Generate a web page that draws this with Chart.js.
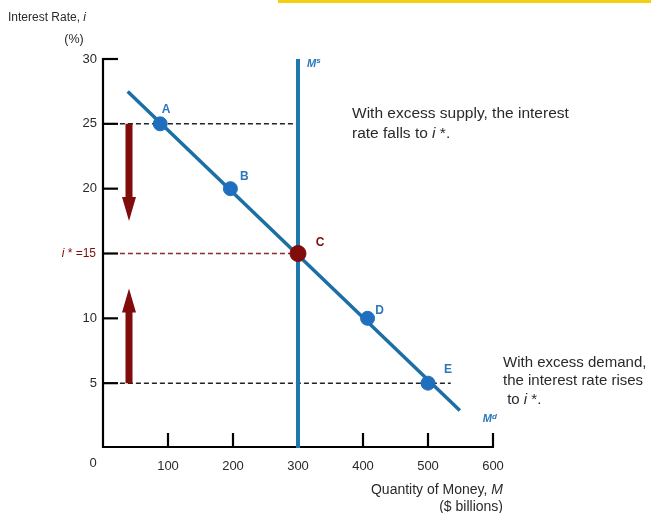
<!DOCTYPE html>
<html><head><meta charset="utf-8">
<script src="https://cdn.jsdelivr.net/npm/chart.js@4.4.1/dist/chart.umd.min.js"></script>
<style>html,body{margin:0;padding:0;background:#fff}canvas{display:block}</style>
</head><body>
<canvas id="c" width="651" height="513"></canvas>
<script>
// ---- data ----
const xTicks = [0, 100, 200, 300, 400, 500, 600];
const yTicks = [5, 10, 15, 20, 25, 30];
const pointLabels = ['A', 'B', 'C', 'D', 'E'];
const pointQty = [88, 196, 300, 407, 500];
const pointRate = [25, 20, 15, 10, 5];
const demandQty = [38, 549];
const demandRate = [27.5, 2.9];
const supplyQty = [300, 300];
const supplyRate = [0, 30];
const eqRate = 15;
const dashStart = 26;
const dash25End = 300;
const dash15End = 300;
const dash5End = 535;
const arrowQty = 40;
const arrowDown = [25, 17.5];
const arrowUp = [5, 12.3];

const BLUE_LINE = '#1c6fa4';
const BLUE_PT = '#1f6fbe';
const DARK_RED = '#800c0c';
const TXT = '#2a2a2a';
const FF = '"Liberation Sans", Arial, Helvetica, sans-serif';

const pts = (xs, ys) => xs.map((x, i) => ({x, y: ys[i]}));
const blueIdx = [0, 1, 3, 4];

function runs(ctx, list, x, y, align) {
  let w = 0;
  list.forEach(r => { ctx.font = r.f; w += ctx.measureText(r.t).width; });
  let cx = align === 'right' ? x - w : align === 'center' ? x - w / 2 : x;
  ctx.textAlign = 'left';
  list.forEach(r => {
    ctx.font = r.f; ctx.fillStyle = r.c || TXT;
    ctx.fillText(r.t, cx, y + (r.dy || 0));
    cx += ctx.measureText(r.t).width;
  });
}

const deco = {
  id: 'deco',
  beforeDraw(chart) {
    const ctx = chart.ctx;
    ctx.save();
    ctx.fillStyle = '#fff'; ctx.fillRect(0, 0, chart.width, chart.height);
    ctx.fillStyle = '#f5cf12'; ctx.fillRect(278, 0, 373, 3);
    ctx.restore();
  },
  beforeDatasetsDraw(chart) {
    const ctx = chart.ctx, xs = chart.scales.x, ys = chart.scales.y;
    const x0 = xs.getPixelForValue(0), y0 = ys.getPixelForValue(0) - 1;
    ctx.save();
    ctx.strokeStyle = '#000'; ctx.lineWidth = 2.2;
    ctx.beginPath();
    ctx.moveTo(x0, ys.getPixelForValue(30) - 1); ctx.lineTo(x0, y0);
    ctx.lineTo(xs.getPixelForValue(600) + 1, y0);
    ctx.stroke();
    yTicks.forEach(v => {
      const py = ys.getPixelForValue(v);
      ctx.beginPath(); ctx.moveTo(x0, py); ctx.lineTo(x0 + 15, py); ctx.stroke();
    });
    xTicks.slice(1).forEach(v => {
      const px = xs.getPixelForValue(v);
      ctx.beginPath(); ctx.moveTo(px, y0); ctx.lineTo(px, y0 - 14); ctx.stroke();
    });
    // tick labels
    ctx.textBaseline = 'middle';
    const f = '13px ' + FF;
    yTicks.forEach(v => {
      const py = ys.getPixelForValue(v);
      if (v === eqRate) {
        runs(ctx, [{t: 'i', f: 'italic 12px ' + FF, c: DARK_RED}, {t: ' * =' + v, f: '12px ' + FF, c: DARK_RED}], x0 - 7, py, 'right');
      } else {
        runs(ctx, [{t: String(v), f}], x0 - 6, py, 'right');
      }
    });
    xTicks.forEach(v => {
      if (v === 0) { runs(ctx, [{t: '0', f}], x0 - 10, y0 + 16, 'center'); return; }
      runs(ctx, [{t: String(v), f}], xs.getPixelForValue(v), y0 + 19, 'center');
    });
    ctx.restore();
  },
  afterDatasetsDraw(chart) {
    const ctx = chart.ctx, xs = chart.scales.x, ys = chart.scales.y;
    ctx.save();
    // arrows
    const ax = xs.getPixelForValue(arrowQty);
    [arrowDown, arrowUp].forEach(a => {
      const p1 = ys.getPixelForValue(a[0]), p2 = ys.getPixelForValue(a[1]);
      const dir = p2 > p1 ? 1 : -1;
      const hb = p2 - dir * 24;
      ctx.fillStyle = DARK_RED;
      ctx.beginPath();
      ctx.moveTo(ax - 3.5, p1); ctx.lineTo(ax + 3.5, p1);
      ctx.lineTo(ax + 3.5, hb); ctx.lineTo(ax + 7, hb);
      ctx.lineTo(ax, p2); ctx.lineTo(ax - 7, hb); ctx.lineTo(ax - 3.5, hb);
      ctx.closePath(); ctx.fill();
    });
    // point labels
    const offs = [[6, -14], [14, -12], [22, -11], [12, -8], [20, -13]];
    ctx.textBaseline = 'middle';
    pointLabels.forEach((l, i) => {
      const px = xs.getPixelForValue(pointQty[i]) + offs[i][0];
      const py = ys.getPixelForValue(pointRate[i]) + offs[i][1];
      runs(ctx, [{t: l, f: 'bold 12px ' + FF, c: i === 2 ? DARK_RED : '#2a78bb'}], px, py, 'center');
    });
    // curve labels
    const sx = xs.getPixelForValue(supplyQty[0]) + 9, sy = ys.getPixelForValue(supplyRate[1]) + 5;
    runs(ctx, [{t: 'M', f: 'italic bold 11px ' + FF, c: '#2a78bb'}, {t: 's', f: 'italic bold 8px ' + FF, c: '#2a78bb', dy: -3}], sx, sy, 'left');
    const dx = xs.getPixelForValue(demandQty[1]) + 23, dy = ys.getPixelForValue(demandRate[1]) + 9;
    runs(ctx, [{t: 'M', f: 'italic bold 11px ' + FF, c: '#2a78bb'}, {t: 'd', f: 'italic bold 8px ' + FF, c: '#2a78bb', dy: -3}], dx, dy, 'left');
    // axis titles
    const ft = '12px ' + FF, fti = 'italic 12px ' + FF;
    runs(ctx, [{t: 'Interest Rate, ', f: ft}, {t: 'i', f: fti}], 8, 18, 'left');
    runs(ctx, [{t: '(%)', f: '12.5px ' + FF}], 74, 40, 'center');
    const f = '14px ' + FF, fi = 'italic 14px ' + FF;
    runs(ctx, [{t: 'Quantity of Money, ', f}, {t: 'M', f: fi}], 503, 490, 'right');
    runs(ctx, [{t: '($ billions)', f}], 503, 507, 'right');
    // annotations
    const g = '15.5px ' + FF, gi = 'italic 15.5px ' + FF;
    runs(ctx, [{t: 'With excess supply, the interest', f: g}], 352, 114, 'left');
    runs(ctx, [{t: 'rate falls to ', f: g}, {t: 'i', f: gi}, {t: ' *.', f: g}], 352, 134, 'left');
    const h = '15px ' + FF, hi = 'italic 15px ' + FF;
    runs(ctx, [{t: 'With excess demand,', f: h}], 503, 363, 'left');
    runs(ctx, [{t: 'the interest rate rises', f: h}], 503, 381, 'left');
    runs(ctx, [{t: ' to ', f: h}, {t: 'i', f: hi}, {t: ' *.', f: h}], 503, 400, 'left');
    ctx.restore();
  }
};

new Chart(document.getElementById('c'), {
  type: 'scatter',
  data: {
    datasets: [
      {label: 'Eq', data: [{x: pointQty[2], y: pointRate[2]}], backgroundColor: DARK_RED, borderColor: DARK_RED, pointRadius: 8, order: 0},
      {label: 'Points', data: blueIdx.map(i => ({x: pointQty[i], y: pointRate[i]})), backgroundColor: BLUE_PT, borderColor: BLUE_PT, pointRadius: 7, order: 1},
      {label: 'Supply', type: 'line', data: pts(supplyQty, supplyRate), borderColor: '#1f78ad', borderWidth: 4, pointRadius: 0, order: 2},
      {label: 'Demand', type: 'line', data: pts(demandQty, demandRate), borderColor: BLUE_LINE, borderWidth: 3.5, pointRadius: 0, order: 3},
      {label: 'd25', type: 'line', data: [{x: dashStart, y: 25}, {x: dash25End, y: 25}], borderColor: '#222', borderWidth: 1.5, borderDash: [5, 3], pointRadius: 0, order: 4},
      {label: 'd15', type: 'line', data: [{x: dashStart, y: eqRate}, {x: dash15End, y: eqRate}], borderColor: '#8a2a2a', borderWidth: 1.3, borderDash: [5, 3], pointRadius: 0, order: 4},
      {label: 'd5', type: 'line', data: [{x: dashStart, y: 5}, {x: dash5End, y: 5}], borderColor: '#222', borderWidth: 1.5, borderDash: [5, 3], pointRadius: 0, order: 4}
    ].map(d => Object.assign({clip: false, showLine: d.type === 'line', pointHoverRadius: 0}, d))
  },
  options: {
    responsive: false, animation: false, events: [],
    layout: {padding: {left: 103, right: 158, top: 59, bottom: 65}},
    plugins: {legend: {display: false}, tooltip: {enabled: false}},
    scales: {
      x: {type: 'linear', min: 0, max: 600, display: false},
      y: {type: 'linear', min: 0, max: 30, display: false}
    }
  },
  plugins: [deco]
});
</script>
</body></html>
